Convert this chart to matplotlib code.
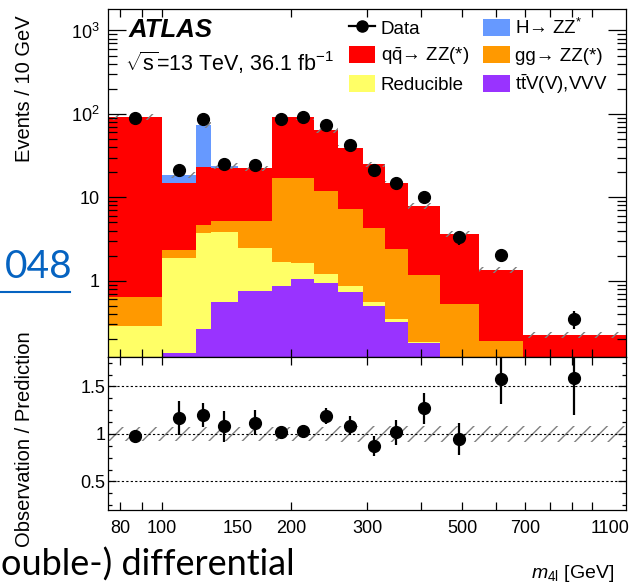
# Import numpy for bin arithmetic.
import numpy as np

# Import matplotlib for drawing the figure.
import matplotlib
matplotlib.use("Agg")
import matplotlib.pyplot as plt
from matplotlib.lines import Line2D
from matplotlib.patches import Patch
from matplotlib.ticker import FixedLocator, FixedFormatter, MultipleLocator, NullFormatter

# Helvetica-like font, with DejaVu as fallback for arrows.
plt.rcParams["font.family"] = ["Liberation Sans", "DejaVu Sans"]
plt.rcParams["mathtext.fontset"] = "custom"
plt.rcParams["mathtext.rm"] = "Liberation Sans"
plt.rcParams["mathtext.it"] = "Liberation Sans:italic"
plt.rcParams["mathtext.bf"] = "Liberation Sans:bold"
plt.rcParams["hatch.color"] = "#808080"
plt.rcParams["hatch.linewidth"] = 1.0

# ---------------- data ----------------
# m4l bin edges in GeV.
bin_edges = [75, 100, 120, 130, 150, 180, 200, 226, 257, 293, 330, 373, 444, 545, 690, 1200]

# Expected events per bin for every process (stack order bottom -> top).
ttv = [0.01, 0.135, 0.264, 0.551, 0.752, 0.863, 1.04, 0.93, 0.726, 0.497, 0.322, 0.178, 0.06, 0.025, 0.005]
reducible = [0.28, 1.755, 3.44, 3.32, 1.70, 0.83, 0.60, 0.27, 0.137, 0.064, 0.022, 0.008, 0.005, 0.002, 0.001]
gg_zz = [0.343, 0.44, 0.95, 1.37, 2.79, 15.2, 15.26, 10.7, 6.38, 3.69, 2.06, 0.98, 0.456, 0.162, 0.03]
qq_zz = [91.2, 12.67, 18.25, 17.36, 16.96, 74.3, 74.6, 52.2, 31.5, 20.65, 12.3, 6.76, 3.11, 1.15, 0.187]
higgs = [0.0, 3.5, 50.7, 1.3, 0.1, 0.0, 0.0, 0.0, 0.0, 0.0, 0.0, 0.0, 0.0, 0.0, 0.0]

# Observed events.
data = [88.5, 21.3, 86.1, 24.9, 24.4, 86.9, 92.6, 73.5, 42.2, 21.3, 15.0, 10.0, 3.31, 2.05, 0.347]

# Observation / prediction with its error.
ratio = [0.98, 1.17, 1.20, 1.08, 1.12, 1.02, 1.035, 1.19, 1.087, 0.874, 1.018, 1.27, 0.944, 1.574, 1.59]
ratio_err = [0.05, 0.18, 0.13, 0.16, 0.13, 0.065, 0.06, 0.08, 0.10, 0.105, 0.13, 0.16, 0.17, 0.26, 0.39]

# Relative uncertainty of the prediction (hatched band).
syst = [0.075, 0.075, 0.075, 0.075, 0.075, 0.075, 0.075, 0.075, 0.08, 0.08, 0.08, 0.085, 0.085, 0.085, 0.085]

# Tick labels on the mass axis.
x_tick_values = [80, 100, 150, 200, 300, 500, 700, 1100]
x_tick_labels = ["80", "100", "150", "200", "300", "500", "700", "1100"]

# ---------------- figure ----------------
edges = np.array(bin_edges, dtype=float)
centers = np.sqrt(edges[:-1] * edges[1:])

fig = plt.figure(figsize=(6.32, 5.87), dpi=100)
ax = fig.add_axes([0.1709, 0.3918, 0.8196, 0.5929])
rax = fig.add_axes([0.1709, 0.1312, 0.8196, 0.2606], sharex=ax)

# Stack of the predictions.
components = [
    (ttv, "#9933FF", r"t$\bar{\mathrm{t}}$V(V),VVV"),
    (reducible, "#FFFF66", "Reducible"),
    (gg_zz, "#FF9900", "gg→ ZZ(*)"),
    (qq_zz, "#FF0000", r"q$\bar{\mathrm{q}}$→ ZZ(*)"),
    (higgs, "#6699FF", r"H→ ZZ$^{*}$"),
]
bottom = np.full(len(data), 1e-3)
handles = {}
for values, color, label in components:
    top = bottom + np.array(values)
    ax.stairs(top, edges, baseline=bottom, fill=True, color=color, linewidth=0)
    handles[label] = Patch(facecolor=color, edgecolor="none")
    bottom = top
total = bottom

# Hatched uncertainty on the total prediction.
s = np.array(syst)
ax.stairs(total * (1 + s), edges, baseline=total * (1 - s), fill=True,
          facecolor="none", edgecolor="#808080", hatch="//", linewidth=0)

# Data points.
r = np.array(ratio)
re = np.array(ratio_err)
data_err = np.array(data) * re / r
ax.errorbar(centers, data, yerr=data_err, fmt="o", color="black",
            markersize=8.5, elinewidth=1.6, capsize=0)

# Main axis styling.
ax.set_xscale("log")
ax.set_yscale("log")
ax.set_xlim(75, 1200)
ax.set_ylim(0.122, 1810)
ax.yaxis.set_major_locator(FixedLocator([1, 10, 100, 1000]))
ax.yaxis.set_major_formatter(FixedFormatter(["1", "10", r"$10^{2}$", r"$10^{3}$"]))
ax.yaxis.set_minor_locator(FixedLocator([m * 10.0 ** e for e in range(-1, 4) for m in range(2, 10)]))
ax.yaxis.set_minor_formatter(NullFormatter())
ax.tick_params(axis="y", which="major", length=13, width=0.9)
ax.tick_params(axis="y", which="minor", length=6.5, width=0.9)
ax.tick_params(which="both", direction="in", top=True, right=True, labelsize=13, pad=6)
ax.tick_params(axis="x", labelbottom=False)

# x ticks: labels at custom values, marks at log positions.
x_marks = [80, 90, 100, 200, 300, 400, 500, 600, 700, 800, 900, 1000]
for a in (ax, rax):
    a.xaxis.remove_overlapping_locs = False
    a.xaxis.set_major_locator(FixedLocator(x_tick_values))
    a.xaxis.set_minor_locator(FixedLocator(x_marks))
    a.xaxis.set_minor_formatter(NullFormatter())
    a.tick_params(axis="x", which="major", length=0)
    a.tick_params(axis="x", which="minor", length=6, width=0.9, direction="in",
                  top=True, bottom=True)
    for sp in a.spines.values():
        sp.set_linewidth(0.9)
rax.xaxis.set_major_formatter(FixedFormatter(x_tick_labels))
rax.tick_params(axis="x", labelsize=13, pad=7)

# Texts in the main panel.
ax.text(0.04, 0.975, "ATLAS", transform=ax.transAxes, fontsize=18.5,
        fontweight="bold", fontstyle="italic", va="top", ha="left")
ax.text(0.032, 0.882, r"$\sqrt{\mathrm{s}}$=13 TeV, 36.1 fb$^{-1}$", transform=ax.transAxes,
        fontsize=15.5, va="top", ha="left")

# Legend (two columns, filled column by column).
data_handle = Line2D([], [], color="black", marker="o", markersize=8, linewidth=1.6)
order = [
    (data_handle, "Data"),
    (handles[components[3][2]], components[3][2]),
    (handles["Reducible"], "Reducible"),
    (handles[components[4][2]], components[4][2]),
    (handles[components[2][2]], components[2][2]),
    (handles[components[0][2]], components[0][2]),
]
ax.legend([h for h, _ in order], [l for _, l in order], ncol=2, frameon=False,
          loc="upper left", bbox_to_anchor=(0.44, 1.012), fontsize=13.5,
          handlelength=1.4, handleheight=1.05, handletextpad=0.3,
          columnspacing=0.75, labelspacing=0.4, borderaxespad=0.3)

# Ratio panel.
rax.stairs(1 + s, edges, baseline=1 - s, fill=True, facecolor="none",
           edgecolor="#808080", hatch="//", linewidth=0)
for yv in (0.5, 1.0, 1.5):
    rax.axhline(yv, color="black", linewidth=0.8, linestyle=(0, (2, 2)))
rax.errorbar(centers, ratio, yerr=ratio_err, fmt="o", color="black",
             markersize=8.5, elinewidth=1.6, capsize=0)
rax.set_ylim(0.2, 1.81)
rax.yaxis.set_major_locator(FixedLocator([0.5, 1.0, 1.5]))
rax.yaxis.set_major_formatter(FixedFormatter(["0.5", "1", "1.5"]))
rax.yaxis.set_minor_locator(MultipleLocator(0.125))
rax.tick_params(axis="y", which="major", length=6, width=0.9)
rax.tick_params(axis="y", which="minor", length=3, width=0.9)
rax.tick_params(axis="y", which="both", direction="in", right=True, labelsize=13, pad=2)

# Axis titles as figure texts (ROOT style placement).
fig.text(25 / 632, 1 - 15 / 587, "Events / 10 GeV", rotation=90, ha="center", va="top", fontsize=14.5)
fig.text(25 / 632, 1 - 547 / 587, "Observation / Prediction", rotation=90, ha="center",
         va="bottom", fontsize=14.5)
fig.text(614 / 632, 1 - 573 / 587, r"$m_{\mathrm{4l}}$ [GeV]", ha="right", va="center", fontsize=14)

# Slide fragments around the plot.
fig.text(5 / 632, 1 - 267 / 587, "048", color="#0563C1", fontsize=28, family="Lato",
         ha="left", va="center")
fig.add_artist(Line2D([0, 70 / 632], [1 - 292 / 587, 1 - 292 / 587], color="#0563C1", linewidth=1.5))
fig.text(1 / 632, 1 - 576 / 587, "ouble-) differential", fontsize=26, family="Lato",
         ha="left", va="baseline")

# Save the figure.
fig.savefig("out.png", dpi=100)
plt.close(fig)
